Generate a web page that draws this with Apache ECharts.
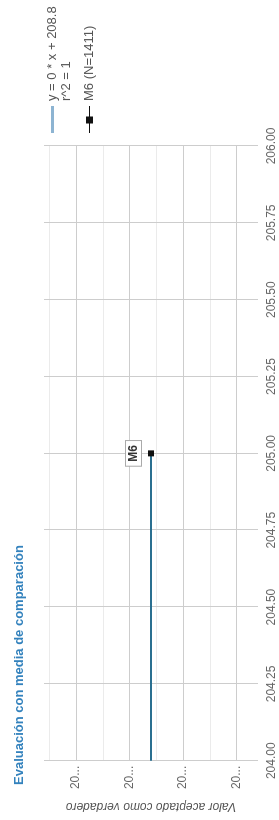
<!DOCTYPE html>
<html>
<head>
<meta charset="utf-8">
<script src="https://cdn.jsdelivr.net/npm/echarts@6/dist/echarts.min.js"></script>
<style>
  html, body { margin: 0; padding: 0; overflow: hidden; background: #fff; }
  #wrap { width: 279px; height: 820px; position: relative; overflow: hidden; }
  /* the reference is the landscape chart turned a quarter to the left */
  #chart {
    width: 820px; height: 279px;
    position: absolute; left: 0; top: 0;
    transform-origin: 0 0;
    transform: translateY(820px) rotate(-90deg);
  }
</style>
</head>
<body>
<div id="wrap"><div id="chart"></div></div>
<script>
const titleText = 'Evaluación con media de comparación';
const fitName = 'y = 0 * x + 208.8';
const fitR2 = 'r^2 = 1';
const pointName = 'M6 (N=1411)';
const pointLabel = 'M6';

// regression line, drawn from axis start up to the sample
const fitX = [204, 205];
const fitY = [208.8, 208.8];
// the sample mean point
const pointX = [205];
const pointY = [208.8];

// axis ranges / ticks
const xRange = [204, 206];
const xStep = 0.25;
const yRange = [207.8, 209.8];
const yMajorTicks = [208, 208.5, 209, 209.5];
const yMinorTicks = [208.25, 208.75, 209.25, 209.75];

const font = 'Liberation Sans, Arial, sans-serif';

const chart = echarts.init(document.getElementById('chart'), null, { renderer: 'canvas' });

const option = {
    animation: false,
    backgroundColor: '#fff',
    title: [
        {
            text: titleText,
            left: 30,
            top: 8,
            textStyle: { fontFamily: font, fontSize: 13, fontWeight: 'bold', color: '#3382bd' }
        },
        {
            text: fitR2,
            left: 719,
            top: 60,
            padding: 0,
            textStyle: { fontFamily: font, fontSize: 13, fontWeight: 'normal', color: '#555' }
        }
    ],
    legend: {
        orient: 'vertical',
        left: 687,
        top: 46,
        padding: 0,
        itemWidth: 27,
        itemHeight: 14,
        itemGap: 24,
        textStyle: { fontFamily: font, fontSize: 13, color: '#555' },
        data: [
            {
                name: fitName,
                icon: 'path://M0,0H27V3H0Z',
                itemStyle: { color: '#8db4d2' }
            },
            {
                name: pointName,
                icon: 'path://M0,3H9.5V4H0Z M9.5,0H16.5V7H9.5Z M16.5,3H27V4H16.5Z',
                itemStyle: { color: '#111' }
            }
        ]
    },
    grid: {
        left: 50,
        right: 146,
        top: 44,
        bottom: 21,
        containLabel: false
    },
    xAxis: {
        type: 'value',
        min: xRange[0],
        max: xRange[1],
        interval: xStep,
        axisLine: { show: false },
        axisTick: { show: false },
        axisLabel: {
            fontFamily: font,
            fontSize: 12,
            color: '#666',
            margin: 8,
            formatter: v => v.toFixed(2)
        },
        splitLine: { lineStyle: { color: '#cdcdcd', width: 1 } }
    },
    yAxis: [
        {
            type: 'value',
            min: yRange[0],
            max: yRange[1],
            name: 'Valor aceptado como verdadero',
            nameLocation: 'middle',
            nameGap: 38,
            nameTextStyle: { fontFamily: font, fontSize: 12, fontStyle: 'italic', color: '#555' },
            axisLine: { show: false },
            axisTick: { show: false, customValues: yMajorTicks },
            axisLabel: {
                customValues: yMajorTicks,
                fontFamily: font,
                fontSize: 12,
                color: '#666',
                margin: 5,
                width: 25,
                overflow: 'truncate',
                ellipsis: '...',
                formatter: v => v.toFixed(1)
            },
            splitLine: { lineStyle: { color: '#cdcdcd', width: 1 } }
        },
        {
            type: 'value',
            min: yRange[0],
            max: yRange[1],
            position: 'left',
            axisLine: { show: false },
            axisTick: { show: false, customValues: yMinorTicks },
            axisLabel: { show: false },
            splitLine: { lineStyle: { color: '#ebebeb', width: 1 } }
        }
    ],
    series: [
        {
            name: fitName,
            type: 'line',
            symbol: 'none',
            color: '#2a6f90',
            lineStyle: { color: '#2a6f90', width: 2 },
            data: fitX.map((x, i) => [x, fitY[i]]),
            z: 3
        },
        {
            name: pointName,
            type: 'line',
            symbol: 'rect',
            symbolSize: 6,
            color: '#111',
            itemStyle: { color: '#111' },
            lineStyle: { color: '#111', width: 1 },
            data: pointX.map((x, i) => [x, pointY[i]]),
            label: {
                show: true,
                position: 'top',
                distance: 7,
                formatter: pointLabel,
                fontFamily: font,
                fontSize: 12,
                fontWeight: 'bold',
                color: '#333',
                backgroundColor: '#fff',
                borderColor: '#aaa',
                borderWidth: 1,
                padding: [2, 4, 1, 4]
            },
            z: 4
        }
    ]
};

chart.setOption(option);
</script>
</body>
</html>
